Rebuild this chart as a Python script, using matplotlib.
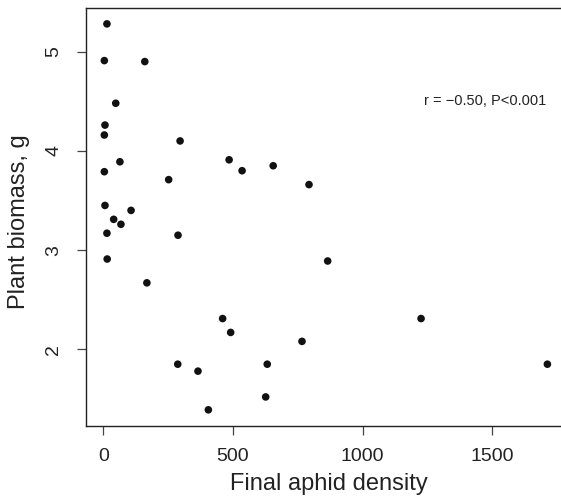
import matplotlib
matplotlib.use("Agg")
import matplotlib.pyplot as plt

aphid_density = [14, 4, 160, 48, 6.5, 4, 296, 64, 485, 535, 655, 4, 252, 793,
                 6.5, 107, 40, 68, 14, 288, 15, 168, 865, 460, 491, 766, 287,
                 365, 632, 626, 405, 1225, 1712]
plant_biomass = [5.28, 4.91, 4.90, 4.48, 4.26, 4.16, 4.10, 3.89, 3.91, 3.80,
                 3.85, 3.79, 3.71, 3.66, 3.45, 3.40, 3.31, 3.26, 3.17, 3.15,
                 2.91, 2.67, 2.89, 2.31, 2.17, 2.08, 1.85, 1.78, 1.85, 1.52,
                 1.39, 2.31, 1.85]
x_ticks = [0, 500, 1000, 1500]
y_ticks = [2, 3, 4, 5]
annotation = "r = \u22120.50, P<0.001"

plt.rcParams['font.family'] = ['Liberation Sans', 'DejaVu Sans']

W, H = 561, 498
fig = plt.figure(figsize=(W / 100, H / 100), dpi=100)
left, right, top, bottom = 86, 567, 8, 426
ax = fig.add_axes([left / W, 1 - bottom / H, (right - left) / W, (bottom - top) / H])

ax.scatter(aphid_density, plant_biomass, s=30, color='#111111', edgecolors='none', zorder=3)

ax.set_xlim(-66.7, 1787.6)
ax.set_ylim(1.227, 5.44)
ax.set_xticks(x_ticks)
ax.set_yticks(y_ticks)
ax.set_xticklabels([str(v) for v in x_ticks])
ax.set_yticklabels([str(v) for v in y_ticks])

for s in ax.spines.values():
    s.set_linewidth(1.0)
    s.set_color('#222222')

ax.tick_params(axis='both', direction='out', length=6.5, width=0.9, color='#444444',
               labelsize=14, labelcolor='#222222')
ax.tick_params(axis='x', pad=9)
ax.tick_params(axis='y', pad=10.5, labelrotation=90)
for lab in ax.get_yticklabels():
    lab.set_va('center')

ax.set_xlabel("Final aphid density", fontsize=17, color='#222222')
ax.xaxis.label.set_va('baseline')
ax.xaxis.set_label_coords((329 - left) / (right - left), (bottom - 490) / (bottom - top))

ax.set_ylabel("Plant biomass, g", fontsize=17, color='#222222')
ax.yaxis.label.set_va('center')
ax.yaxis.set_label_coords((19 - left) / (right - left), 0.5 - (222 - (top + bottom) / 2) / (bottom - top))

ax.text(1707, 4.50, annotation, ha='right', va='center', fontsize=10.5, color='#222222')

fig.savefig("out.png", dpi=100)
